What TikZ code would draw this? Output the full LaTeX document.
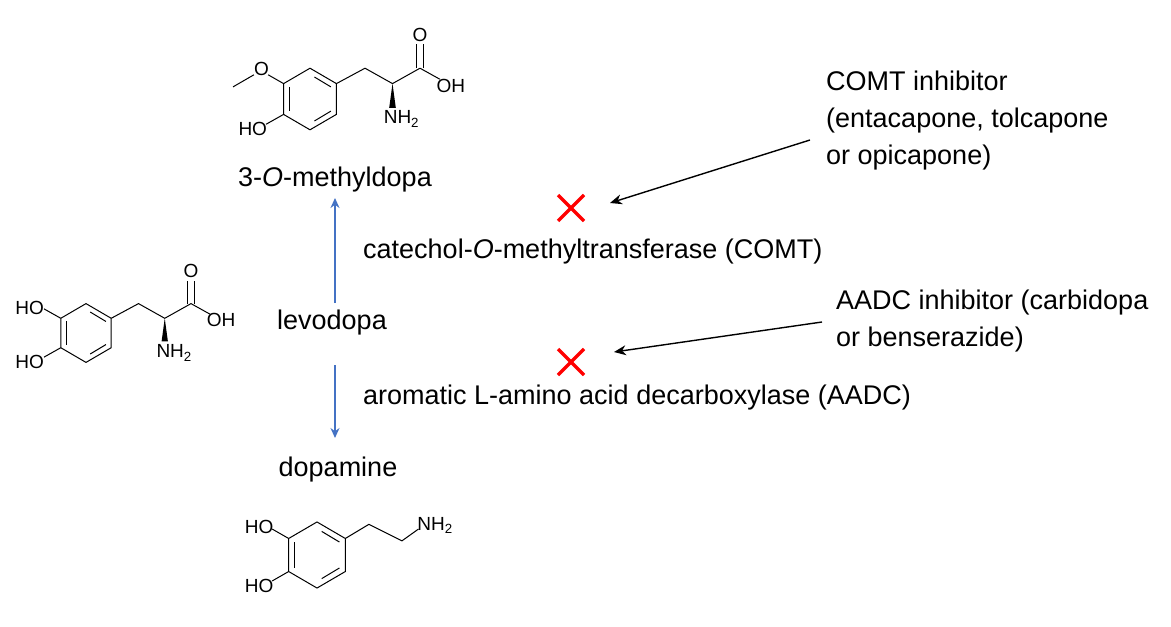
\documentclass[tikz,border=0pt]{standalone}
\usepackage{fontspec}
\setmainfont{Liberation Sans}
\usetikzlibrary{arrows.meta}
\begin{document}
\begin{tikzpicture}[x=1pt,y=-1pt,
  bond/.style={line width=1pt},
  lbl/.style={font=\fontsize{27}{37}\selectfont, inner sep=0pt},
  atom/.style={font=\fontsize{19}{20}\selectfont, inner sep=1pt},
  conv/.style={-{Stealth[length=10pt,width=9pt]}, line width=1.4pt, draw={rgb,255:red,68;green,114;blue,196}},
  inh/.style={-{Stealth[length=12pt,width=10pt]}, line width=1.4pt},
  cross/.style={line width=3.5pt, red}]
\useasboundingbox (0,0) rectangle (1171,627);
\newcommand{\ringat}{%
   \draw[bond] (0,-28)--(24,-14)--(24,14)--(0,28)--(-24,14)--(-24,-14)--cycle;
   \draw[bond] (-19,-11)--(-19,11);
   \draw[bond] (4,-20)--(19,-11);
   \draw[bond] (4,20)--(19,11);}
% levodopa
\begin{scope}[shift={(86,333)},scale=1.05]
 \ringat
 \draw[bond] (24,-14)--(50,-28)--(75,-14)--(100,-28);
 \draw[bond] (97,-28)--(97,-50); \draw[bond] (103,-28)--(103,-50);
 \node[atom] (lo) at (100,-59) {O};
 \draw[bond] (100,-28)--(118,-18);
 \node[atom,anchor=west] (loh) at (114,-12) {OH};
 \fill (75,-14)--(72,8)--(78,8)--cycle;
 \node[atom,anchor=west] (lnh) at (66,19) {NH\textsubscript{2}};
 \draw[bond] (-24,-14)--(-40,-23);
 \node[atom,anchor=east] (lho1) at (-39,-24) {HO};
 \draw[bond] (-24,14)--(-40,23);
 \node[atom,anchor=east] (lho2) at (-39,28) {HO};
\end{scope}
% 3-O-methyldopa
\begin{scope}[shift={(310,99)},scale=1.1]
 \ringat
 \draw[bond] (24,-14)--(50,-28)--(75,-14)--(100,-28);
 \draw[bond] (97,-28)--(97,-50); \draw[bond] (103,-28)--(103,-50);
 \node[atom] (mo) at (100,-58) {O};
 \draw[bond] (100,-28)--(118,-18);
 \node[atom,anchor=west] (moh) at (114,-12) {OH};
 \fill (75,-14)--(72,8)--(78,8)--cycle;
 \node[atom,anchor=west] (mnh) at (66,18) {NH\textsubscript{2}};
 \draw[bond] (-24,-14)--(-38,-22);
 \node[atom] (mom) at (-44,-27) {O};
 \draw[bond] (-51,-22)--(-70,-11);
 \draw[bond] (-24,14)--(-40,23);
 \node[atom,anchor=east] (mho) at (-38,27) {HO};
\end{scope}
% dopamine
\begin{scope}[shift={(317,555)},scale=1.18]
 \ringat
 \draw[bond] (24,-14)--(44,-26)--(72,-12)--(86,-22);
 \draw[bond] (-24,-14)--(-38,-22);
 \node[atom,anchor=east] (dho1) at (-36,-24) {HO};
 \draw[bond] (-24,14)--(-38,22);
 \node[atom,anchor=east] (dho2) at (-36,26) {HO};
 \node[atom,anchor=west] (dnh) at (84,-25) {NH\textsubscript{2}};
\end{scope}
% labels
\node[lbl] (omd) at (335,180) {3-\textit{O}-methyldopa};
\node[lbl] (ld) at (332,323) {levodopa};
\node[lbl] (dp) at (338,470) {dopamine};
\node[lbl,anchor=west] (comt) at (363,252) {catechol-\textit{O}-methyltransferase (COMT)};
\node[lbl,anchor=west] (aadc) at (363,398) {aromatic L-amino acid decarboxylase (AADC)};
\coordinate (u1) at (335,303); \coordinate (u2) at (335,198);
\coordinate (d1) at (335,365); \coordinate (d2) at (335,438);
\draw[conv] (u1)--(u2);
\draw[conv] (d1)--(d2);
% red crosses
\coordinate (x1) at (571,208);
\coordinate (x2) at (571,362);
\foreach \c in {x1,x2}{
 \draw[cross] ([shift={(-13,-13)}]\c)--([shift={(13,13)}]\c);
 \draw[cross] ([shift={(-13,13)}]\c)--([shift={(13,-13)}]\c);}
% inhibitors
\node[lbl,anchor=north west,align=left] (ci) at (826,71) {COMT inhibitor\\(entacapone, tolcapone\\or opicapone)};
\node[lbl,anchor=north west,align=left] (ai) at (836,290) {AADC inhibitor (carbidopa\\or benserazide)};
\coordinate (c1) at (810,140);
\coordinate (c2) at (610,203);
\coordinate (a1s) at (822,322);
\coordinate (a2s) at (614,352);
\draw[inh] (c1)--(c2);
\draw[inh] (a1s)--(a2s);
\end{tikzpicture}
\end{document}
